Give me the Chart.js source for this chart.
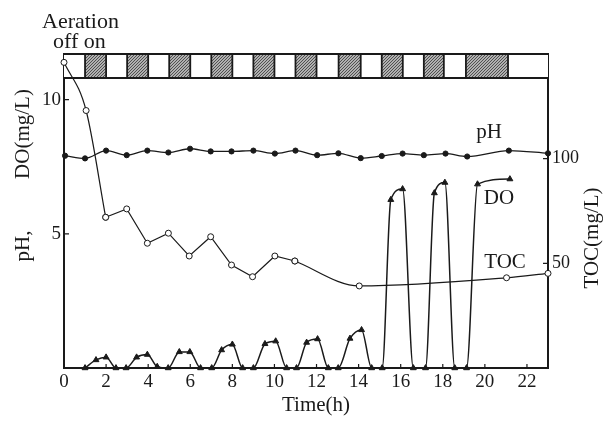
<!DOCTYPE html>
<html>
<head>
<meta charset="utf-8">
<script src="https://cdn.jsdelivr.net/npm/chart.js@4/dist/chart.umd.min.js"></script>
<style>
html,body{margin:0;padding:0;background:#fff;}
#wrap{width:607px;height:421px;position:relative;}
</style>
</head>
<body>
<div id="wrap"><canvas id="c" width="607" height="421"></canvas></div>
<script>
// ---- data ----
const xTickValues = [0,2,4,6,8,10,12,14,16,18,20,22];
const leftTickValues = [5,10];
const rightTickValues = [50,100];

// aeration "on" periods (hatched boxes), hours
const aerationOn = [[1,2],[3,4],[5,6],[7,8],[9,10],[11,12],[13.05,14.1],[15.1,16.1],[17.1,18.05],[19.1,21.1]];

const doTime  = [1.0,1.52,2.0,2.47,2.95,3.45,3.96,4.43,4.95,5.48,5.98,6.49,7.02,7.49,8.0,8.49,9.0,9.55,10.06,10.58,11.05,11.53,12.05,12.56,13.03,13.59,14.14,14.62,15.12,15.53,16.09,16.6,17.18,17.6,18.1,18.57,19.13,19.65,21.19];
const doValue = [0,0.3,0.4,0,0,0.4,0.5,0.05,0,0.6,0.6,0,0,0.67,0.88,0,0,0.9,1.0,0,0,0.95,1.08,0,0,1.1,1.42,0,0,6.27,6.67,0,0,6.52,6.91,0,0,6.85,7.04];

const phTime  = [0.05,1.0,2.0,2.98,3.96,4.96,5.99,6.97,7.96,9.0,10.02,11.0,12.03,13.04,14.1,15.1,16.09,17.1,18.13,19.16,21.14,23.0];
const phValue = [7.91,7.81,8.1,7.93,8.1,8.03,8.17,8.07,8.07,8.1,7.99,8.1,7.93,8.0,7.82,7.9,7.99,7.93,7.99,7.88,8.1,8.0];

const tocTime  = [0,1.05,1.98,2.98,3.96,4.96,5.95,6.97,7.96,8.96,10.02,10.97,14.03,21.03,23.0];
const tocValue = [146,123,72,76,59.6,64.4,53.5,62.7,49.2,43.6,53.5,51.1,39.2,43.1,45.2];

// ---- build ----
const pts = (xs, ys, a, b) => xs.slice(a, b).map((x, i) => ({x, y: ys[a + i]}));
const FONT = "'Liberation Serif','DejaVu Serif',serif";
const INK = '#1a1a1a';

function hatch() {
  const c = document.createElement('canvas');
  c.width = 3; c.height = 3;
  const g = c.getContext('2d');
  g.fillStyle = '#b0b0b0'; g.fillRect(0,0,3,3);
  g.fillStyle = '#505050';
  g.fillRect(2,0,1,1); g.fillRect(1,1,1,1); g.fillRect(0,2,1,1);
  return c;
}

const decor = {
  id: 'decor',
  beforeDatasetsDraw(chart) {
    const {ctx, chartArea: a, scales: {x}} = chart;
    const barTop = a.top, barBot = a.top + 24;
    ctx.save();
    const pat = ctx.createPattern(hatch(), 'repeat');
    ctx.fillStyle = '#fff';
    ctx.fillRect(x.getPixelForValue(0), barTop, x.getPixelForValue(23) - x.getPixelForValue(0), barBot - barTop);
    ctx.lineWidth = 1.8; ctx.strokeStyle = INK;
    aerationOn.forEach(([s, e]) => {
      const x0 = x.getPixelForValue(s), x1 = x.getPixelForValue(e);
      ctx.fillStyle = pat;
      ctx.fillRect(x0, barTop, x1 - x0, barBot - barTop);
      ctx.beginPath();
      ctx.moveTo(x0, barTop); ctx.lineTo(x0, barBot);
      ctx.moveTo(x1, barTop); ctx.lineTo(x1, barBot);
      ctx.stroke();
    });
    ctx.lineWidth = 2;
    ctx.beginPath();
    ctx.moveTo(a.left, barTop); ctx.lineTo(a.right, barTop);
    ctx.moveTo(a.left, barBot); ctx.lineTo(a.right, barBot);
    ctx.stroke();
    ctx.restore();
  },
  afterDraw(chart) {
    const {ctx, chartArea: a, scales: {x, y, y2}} = chart;
    ctx.save();
    ctx.strokeStyle = INK; ctx.lineWidth = 1.2;
    ctx.beginPath();
    xTickValues.forEach(v => { const px = x.getPixelForValue(v); ctx.moveTo(px, a.bottom); ctx.lineTo(px, a.bottom - 4); });
    leftTickValues.forEach(v => { const py = y.getPixelForValue(v); ctx.moveTo(a.left, py); ctx.lineTo(a.left + 5, py); });
    rightTickValues.forEach(v => { const py = y2.getPixelForValue(v); ctx.moveTo(a.right, py); ctx.lineTo(a.right - 5, py); });
    ctx.stroke();

    ctx.fillStyle = INK;
    ctx.font = '22px ' + FONT;
    ctx.textAlign = 'left'; ctx.textBaseline = 'alphabetic';
    ctx.fillText('Aeration', 42, 28);
    ctx.fillText('off on', 53, 48);

    ctx.font = '21px ' + FONT;
    ctx.textAlign = 'center'; ctx.textBaseline = 'middle';
    ctx.fillText('Time(h)', 316, 405);
    ctx.fillText('pH', x.getPixelForValue(20.2), y.getPixelForValue(8.76));
    ctx.fillText('DO', x.getPixelForValue(20.67), y.getPixelForValue(6.33));
    ctx.fillText('TOC', x.getPixelForValue(20.96), y.getPixelForValue(3.95));

    ctx.save(); ctx.translate(23, 134); ctx.rotate(-Math.PI/2); ctx.fillText('DO(mg/L)', 0, 0); ctx.restore();
    ctx.save(); ctx.translate(23, 246); ctx.rotate(-Math.PI/2); ctx.fillText('pH,', 0, 0); ctx.restore();
    ctx.save(); ctx.translate(592, 238); ctx.rotate(-Math.PI/2); ctx.fillText('TOC(mg/L)', 0, 0); ctx.restore();
    ctx.restore();
  }
};

const lineBase = {borderColor: INK, pointBorderColor: INK, clip: false, showLine: true};

new Chart(document.getElementById('c'), {
  type: 'scatter',
  data: {
    datasets: [
      Object.assign({}, lineBase, {
        label: 'pH', data: pts(phTime, phValue, 0, phTime.length), yAxisID: 'y',
        borderWidth: 1.3, cubicInterpolationMode: 'monotone',
        pointStyle: 'circle', pointRadius: 2.6, pointBackgroundColor: INK, pointBorderWidth: 1
      }),
      Object.assign({}, lineBase, {
        label: 'DO', data: pts(doTime, doValue, 0, doTime.length), yAxisID: 'y',
        borderWidth: 1.5, cubicInterpolationMode: 'monotone',
        pointStyle: 'triangle', pointRadius: 3.4, pointBackgroundColor: INK, pointBorderWidth: 1
      }),
      Object.assign({}, lineBase, {
        label: 'TOC a', data: pts(tocTime, tocValue, 0, 3), yAxisID: 'y2',
        borderWidth: 1.2, cubicInterpolationMode: 'monotone',
        pointStyle: 'circle', pointRadius: 3, pointBackgroundColor: '#fff', pointBorderWidth: 1
      }),
      Object.assign({}, lineBase, {
        label: 'TOC b', data: pts(tocTime, tocValue, 2, 12), yAxisID: 'y2',
        borderWidth: 1.2, tension: 0,
        pointStyle: 'circle', pointRadius: 3, pointBackgroundColor: '#fff', pointBorderWidth: 1
      }),
      Object.assign({}, lineBase, {
        label: 'TOC c', data: pts(tocTime, tocValue, 11, tocTime.length), yAxisID: 'y2',
        borderWidth: 1.2, cubicInterpolationMode: 'monotone',
        pointStyle: 'circle', pointRadius: 3, pointBackgroundColor: '#fff', pointBorderWidth: 1
      })
    ]
  },
  options: {
    responsive: false, animation: false, devicePixelRatio: 1,
    layout: {padding: {top: 54, left: 0, right: 0, bottom: 0}},
    plugins: {legend: {display: false}, tooltip: {enabled: false}},
    scales: {
      x: {
        type: 'linear', position: 'bottom', min: 0, max: 23,
        afterFit: s => { s.height = 53; },
        afterBuildTicks: s => { s.ticks = xTickValues.map(v => ({value: v})); },
        grid: {display: false, drawTicks: false},
        border: {display: true, color: INK, width: 2},
        ticks: {color: INK, font: {family: FONT, size: 19}, padding: 3, maxRotation: 0, autoSkip: false}
      },
      y: {
        type: 'linear', position: 'left', min: 0, max: 11.7,
        afterFit: s => { s.width = 64; },
        afterBuildTicks: s => { s.ticks = leftTickValues.map(v => ({value: v})); },
        grid: {display: false, drawTicks: false},
        border: {display: true, color: INK, width: 2},
        ticks: {color: INK, font: {family: FONT, size: 19}, padding: 3}
      },
      y2: {
        type: 'linear', position: 'right', min: 0, max: 150,
        afterFit: s => { s.width = 59; },
        afterBuildTicks: s => { s.ticks = rightTickValues.map(v => ({value: v})); },
        grid: {display: false, drawTicks: false},
        border: {display: true, color: INK, width: 2},
        ticks: {color: INK, font: {family: FONT, size: 18}, padding: 4}
      }
    }
  },
  plugins: [decor]
});
</script>
</body>
</html>
